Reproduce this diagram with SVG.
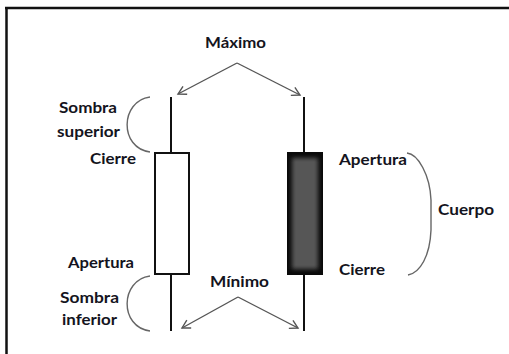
<svg xmlns="http://www.w3.org/2000/svg" width="509" height="354" viewBox="0 0 509 354">
<style>
  text { font-family: Lato, "Open Sans", "Liberation Sans", sans-serif; font-weight: 700; font-size: 15px; fill: #141420; }
  .arrow { fill: none; stroke: #555; stroke-width: 1.4; marker-end: url(#open); }
  .brace { fill: none; stroke: #666; stroke-width: 1.4; }
  .wick { stroke: #111; stroke-width: 2; }
</style>
<defs>
  <marker id="open" viewBox="-10 -6 12 12" refX="0" refY="0" markerWidth="12" markerHeight="12" markerUnits="userSpaceOnUse" orient="auto">
    <path d="M-8,-4.5 L0,0 L-8,4.5" fill="none" stroke="#555" stroke-width="1.4"/>
  </marker>
  <filter id="soft" x="-50%" y="-50%" width="200%" height="200%">
    <feGaussianBlur stdDeviation="2.2"/>
  </filter>
</defs>
<rect width="509" height="354" fill="#fff"/>
<g id="frame">
  <line x1="5" y1="8" x2="509" y2="8" stroke="#111" stroke-width="2.5"/>
  <line x1="6.5" y1="7" x2="6.5" y2="354" stroke="#111" stroke-width="2.5"/>
</g>
<g id="candle-white">
  <line class="wick" x1="171" y1="97" x2="171" y2="331"/>
  <rect x="155" y="153" width="34" height="121" fill="#fff" stroke="#111" stroke-width="2"/>
</g>
<g id="candle-black">
  <line class="wick" x1="304" y1="97" x2="304" y2="331" stroke-width="3"/>
  <rect x="287" y="152" width="36" height="123" fill="#0a0a0a"/>
  <rect x="292" y="158" width="26" height="111" fill="#565656" filter="url(#soft)"/>
</g>
<g id="connectors">
  <path class="arrow" d="M237,63 L178,94"/>
  <path class="arrow" d="M237,63 L300,95"/>
  <path class="arrow" d="M238,297 L182,328"/>
  <path class="arrow" d="M238,297 L298,328"/>
  <path class="brace" d="M150,97 C120,101 119,148 150,152"/>
  <path class="brace" d="M150,276 C120,280 119,327 150,331"/>
  <path class="brace" d="M407,153 C418,154 430,175 431,200 L431,230 C430,256 420,273 408,275"/>
</g>
<g id="labels">
  <text x="205" y="48" textLength="61" lengthAdjust="spacingAndGlyphs">Máximo</text>
  <text x="59" y="113" textLength="58" lengthAdjust="spacingAndGlyphs">Sombra</text>
  <text x="57" y="137" textLength="63" lengthAdjust="spacingAndGlyphs">superior</text>
  <text x="90" y="164" textLength="46" lengthAdjust="spacingAndGlyphs">Cierre</text>
  <text x="339" y="165" textLength="68" lengthAdjust="spacingAndGlyphs">Apertura</text>
  <text x="438" y="215" textLength="56" lengthAdjust="spacingAndGlyphs">Cuerpo</text>
  <text x="339" y="275" textLength="46" lengthAdjust="spacingAndGlyphs">Cierre</text>
  <text x="68" y="268" textLength="66" lengthAdjust="spacingAndGlyphs">Apertura</text>
  <text x="210" y="287" textLength="59" lengthAdjust="spacingAndGlyphs">Mínimo</text>
  <text x="60" y="303" textLength="59" lengthAdjust="spacingAndGlyphs">Sombra</text>
  <text x="62" y="325" textLength="55" lengthAdjust="spacingAndGlyphs">inferior</text>
</g>
</svg>
